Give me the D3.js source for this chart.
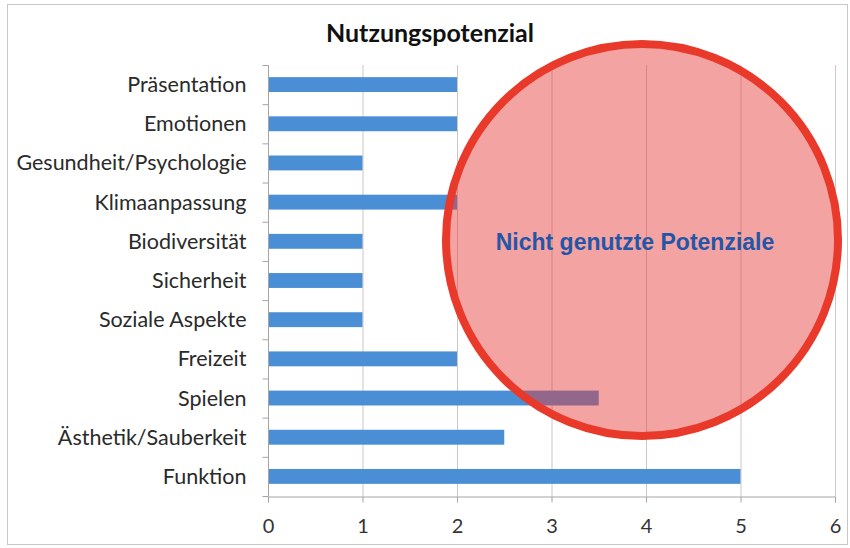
<!DOCTYPE html>
<html>
<head>
  <script type="text/javascript" src="https://d3js.org/d3.v7.min.js"></script>
  <style type="text/css">
  html, body {
    margin: 0px;
    background: #fff;
  }
  </style>
</head>
<body>
<div id="chart"></div>
<script>
"use strict";

// Data
const CATEGORIES = ["Präsentation", "Emotionen", "Gesundheit/Psychologie", "Klimaanpassung",
  "Biodiversität", "Sicherheit", "Soziale Aspekte", "Freizeit", "Spielen",
  "Ästhetik/Sauberkeit", "Funktion"];
const VALUES = [2, 2, 1, 2, 1, 1, 1, 2, 3.5, 2.5, 5];
const X_TICKS = [0, 1, 2, 3, 4, 5, 6];
const TITLE = "Nutzungspotenzial";
const NOTE = "Nicht genutzte Potenziale";

const WIDTH = 850, HEIGHT = 548;
const margin = {top: 65, right: 15, bottom: 52, left: 268};
const FONT = "Lato, 'Open Sans', sans-serif";

const svg = d3.select("#chart").append("svg")
  .attr("width", WIDTH)
  .attr("height", HEIGHT);

// outer frame
svg.append("rect")
  .attr("x", 7.5).attr("y", 4.5)
  .attr("width", 840).attr("height", 540)
  .attr("fill", "#fff")
  .attr("stroke", "#c8c8c8");

const x = d3.scaleLinear()
  .domain([0, 6])
  .range([margin.left, WIDTH - margin.right]);

const y = d3.scaleBand()
  .domain(CATEGORIES)
  .range([margin.top, HEIGHT - margin.bottom])
  .paddingInner(0.62)
  .paddingOuter(0.31);

// gridlines
svg.append("g")
  .selectAll("line")
  .data(X_TICKS.slice(1))
  .join("line")
  .attr("x1", d => x(d) + 0.5).attr("x2", d => x(d) + 0.5)
  .attr("y1", margin.top).attr("y2", HEIGHT - margin.bottom)
  .attr("stroke", "#cfc6c6");

// bars
svg.append("g")
  .selectAll("rect")
  .data(VALUES)
  .join("rect")
  .attr("x", x(0))
  .attr("y", (d, i) => y(CATEGORIES[i]))
  .attr("width", d => x(d) - x(0))
  .attr("height", y.bandwidth())
  .attr("fill", "#4a8fd6");

// bottom axis
const xAxis = svg.append("g")
  .attr("transform", `translate(0,${HEIGHT - margin.bottom + 0.5})`)
  .call(d3.axisBottom(x).tickValues(X_TICKS).tickFormat(d3.format("d")).tickSize(6).tickPadding(16));
xAxis.select(".domain").attr("stroke", "#a9a3a3");
xAxis.selectAll(".tick line").attr("stroke", "#a9a3a3");
xAxis.selectAll("text")
  .attr("fill", "#333")
  .style("font", "20px " + FONT);

// left axis with ticks at band boundaries
const yAxis = svg.append("g")
  .attr("transform", `translate(${margin.left + 0.5},0)`);
yAxis.append("line")
  .attr("y1", margin.top).attr("y2", HEIGHT - margin.bottom)
  .attr("stroke", "#a9a3a3");
const step = y.step();
yAxis.selectAll(".tk")
  .data(d3.range(CATEGORIES.length + 1))
  .join("line")
  .attr("class", "tk")
  .attr("x1", -6).attr("x2", 0)
  .attr("y1", i => margin.top + i * step + 0.5)
  .attr("y2", i => margin.top + i * step + 0.5)
  .attr("stroke", "#a9a3a3");
yAxis.selectAll("text")
  .data(CATEGORIES)
  .join("text")
  .attr("x", -22)
  .attr("y", d => y(d) + y.bandwidth() / 2)
  .attr("dy", "0.35em")
  .attr("text-anchor", "end")
  .attr("fill", "#2a2a2a")
  .style("font", "21.5px " + FONT)
  .text(d => d);

// title
svg.append("text")
  .attr("x", 430).attr("y", 42)
  .attr("text-anchor", "middle")
  .attr("fill", "#111")
  .style("font", "bold 25px " + FONT)
  .text(TITLE);

// highlight circle
svg.append("circle")
  .attr("cx", 642).attr("cy", 240).attr("r", 196)
  .attr("fill", "rgba(230,60,55,0.47)")
  .attr("stroke", "#e8392a")
  .attr("stroke-width", 8);

svg.append("text")
  .attr("x", 635).attr("y", 250)
  .attr("text-anchor", "middle")
  .attr("fill", "#2456a8")
  .style("font", "bold 23px 'Liberation Sans', Arial, sans-serif")
  .text(NOTE);
</script>
</body>
</html>
